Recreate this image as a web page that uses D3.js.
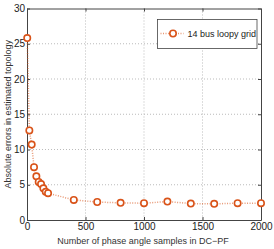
<!DOCTYPE html>
<html lang="en">
<head>
    <meta charset="UTF-8">
    <title>Topology errors vs samples</title>
    <script src="https://d3js.org/d3.v7.min.js"></script>
    <style>
        body { margin: 0; background: white; font-family: "Liberation Sans", Arial, sans-serif; }
        .axis text { font-size: 10px; fill: #222; }
        .axis path, .axis line { stroke: #444; }
        .grid line { stroke: #bbb; stroke-dasharray: 1,2; }
        .label { font-size: 9px; fill: #333; }
    </style>
</head>
<body>
<svg width="274" height="249"></svg>
<script>
    const samples = [2, 20, 40, 60, 80, 100, 120, 140, 160, 180, 400, 600, 800, 1000, 1200, 1400, 1600, 1800, 2000];
    const errors = [25.8, 12.7, 10.7, 7.5, 6.2, 5.4, 5.1, 4.5, 4.0, 3.8, 2.85, 2.55, 2.43, 2.38, 2.62, 2.33, 2.29, 2.38, 2.38];
    const xTicks = [0, 500, 1000, 1500, 2000];
    const yTicks = [0, 5, 10, 15, 20, 25, 30];
    const seriesName = "14 bus loopy grid";

    const svg = d3.select("svg");
    const m = { left: 27, right: 261, top: 8.5, bottom: 220 };
    const color = "#d95319";

    const x = d3.scaleLinear().domain([0, 2000]).range([m.left, m.right]);
    const y = d3.scaleLinear().domain([0, 30]).range([m.bottom, m.top]);

    // grid
    const grid = svg.append("g").attr("class", "grid");
    grid.selectAll(".gx").data(xTicks.slice(1, -1)).enter().append("line")
        .attr("x1", d => x(d)).attr("x2", d => x(d)).attr("y1", m.top).attr("y2", m.bottom);
    grid.selectAll(".gy").data(yTicks.slice(1, -1)).enter().append("line")
        .attr("y1", d => y(d)).attr("y2", d => y(d)).attr("x1", m.left).attr("x2", m.right);

    // axes with inward ticks
    svg.append("g").attr("class", "axis")
        .attr("transform", `translate(0,${m.bottom})`)
        .call(d3.axisBottom(x).tickValues(xTicks).tickFormat(d3.format("d"))
            .tickSizeInner(-3).tickSizeOuter(0).tickPadding(3));
    svg.append("g").attr("class", "axis")
        .attr("transform", `translate(${m.left},0)`)
        .call(d3.axisLeft(y).tickValues(yTicks).tickSizeInner(-3).tickSizeOuter(0).tickPadding(2));
    svg.append("g").attr("class", "axis")
        .attr("transform", `translate(0,${m.top})`)
        .call(d3.axisTop(x).tickValues(xTicks).tickSizeInner(-3).tickSizeOuter(0).tickFormat(""));
    svg.append("g").attr("class", "axis")
        .attr("transform", `translate(${m.right},0)`)
        .call(d3.axisRight(y).tickValues(yTicks).tickSizeInner(-3).tickSizeOuter(0).tickFormat(""));

    const pts = samples.map((s, i) => ({ s: s, e: errors[i] }));

    svg.append("path").datum(pts)
        .attr("fill", "none")
        .attr("stroke", color)
        .attr("stroke-opacity", 0.6)
        .attr("stroke-width", 1.5)
        .attr("stroke-dasharray", "1,1.5")
        .attr("d", d3.line().x(d => x(d.s)).y(d => y(d.e)));

    svg.append("g").selectAll("circle").data(pts).enter().append("circle")
        .attr("cx", d => x(d.s)).attr("cy", d => y(d.e)).attr("r", 3.2)
        .attr("fill", "white").attr("stroke", color).attr("stroke-width", 1.6);

    // axis labels
    svg.append("text").attr("class", "label")
        .attr("x", (m.left + m.right) / 2 - 1).attr("y", 243.5)
        .attr("text-anchor", "middle")
        .text("Number of phase angle samples in DC\u2212PF");
    svg.append("text").attr("class", "label")
        .attr("transform", `translate(11,${(m.top + m.bottom) / 2}) rotate(-90)`)
        .attr("text-anchor", "middle")
        .text("Absolute errors in estimated topology");

    // legend
    const lg = svg.append("g").attr("transform", "translate(157.5,19.5)");
    lg.append("rect").attr("width", 99.5).attr("height", 29)
        .attr("fill", "white").attr("stroke", "#444").attr("stroke-width", 0.8);
    lg.append("line").attr("x1", 3).attr("x2", 26).attr("y1", 14).attr("y2", 14)
        .attr("stroke", color).attr("stroke-opacity", 0.6).attr("stroke-width", 1.5)
        .attr("stroke-dasharray", "1,1.5");
    lg.append("circle").attr("cx", 15.5).attr("cy", 14).attr("r", 3.2)
        .attr("fill", "white").attr("stroke", color).attr("stroke-width", 1.6);
    lg.append("text").attr("x", 30).attr("y", 17.5).style("font-size", "9px").attr("fill", "#222")
        .text(seriesName);
</script>
</body>
</html>
